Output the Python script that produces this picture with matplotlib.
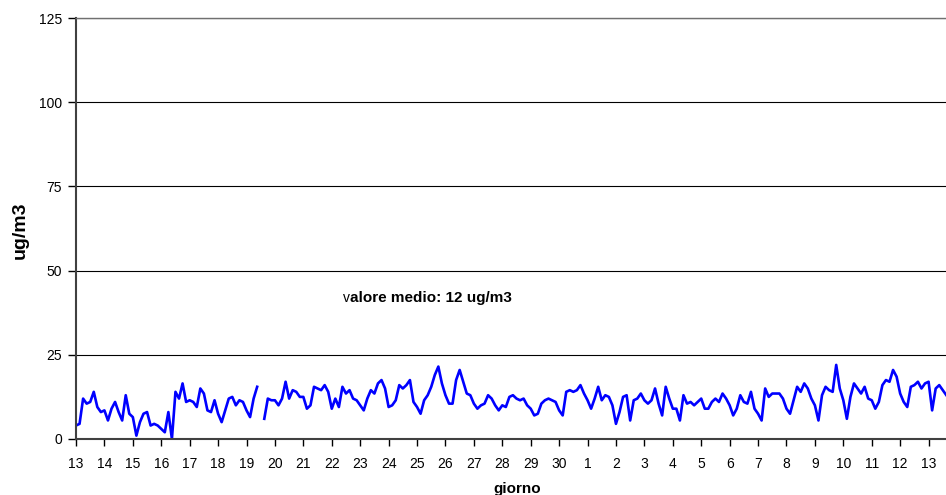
import numpy as np
import matplotlib
matplotlib.use("Agg")
import matplotlib.pyplot as plt

plt.rcParams["font.family"] = ["Liberation Sans", "DejaVu Sans"]

# concentration every 3 hours (ug/m3), from day 13 to day 13 of next month
conc = [
    4, 4.5, 12, 10.5, 11, 14, 9.5, 8,            # 13
    8.5, 5.5, 9, 11, 8, 5.5, 13, 7.5,            # 14
    6.5, 1, 5, 7.5, 8, 4, 4.5, 4,                # 15
    3, 2, 8, 0, 14, 12, 16.5, 11,                # 16
    11.5, 11, 9.5, 15, 13.5, 8.5, 8, 11.5,       # 17
    7.5, 5, 8.5, 12, 12.5, 10, 11.5, 11,         # 18
    8.5, 6.5, 12, 15.5, np.nan, 6, 12, 11.5,     # 19
    11.5, 10, 12, 17, 12, 14.5, 14, 12.5,        # 20
    12.5, 9, 10, 15.5, 15, 14.5, 16, 14,         # 21
    9, 12, 9.5, 15.5, 13.5, 14.5, 12, 11.5,      # 22
    10, 8.5, 12, 14.5, 13.5, 16.5, 17.5, 15,     # 23
    9.5, 10, 11.5, 16, 15, 16, 17.5, 11,         # 24
    9.5, 7.5, 11.5, 13, 15.5, 19, 21.5, 16.5,    # 25
    13, 10.5, 10.5, 17.5, 20.5, 17, 13.5, 13,    # 26
    10.5, 9, 10, 10.5, 13, 12, 10, 8.5,          # 27
    10, 9.5, 12.5, 13, 12, 11.5, 12, 10,         # 28
    9, 7, 7.5, 10.5, 11.5, 12, 11.5, 11,         # 29
    8.5, 7, 14, 14.5, 14, 14.5, 16, 13.5,        # 30
    11.5, 9, 12, 15.5, 11.5, 13, 12.5, 10,       # 1
    4.5, 8, 12.5, 13, 5.5, 11.5, 12, 13.5,       # 2
    11.5, 10.5, 11.5, 15, 10.5, 7, 15.5, 12,     # 3
    9, 9, 5.5, 13, 10.5, 11, 10, 11,             # 4
    12, 9, 9, 11, 12, 11, 13.5, 12,              # 5
    10, 7, 9, 13, 11, 10.5, 14, 9,               # 6
    7.5, 5.5, 15, 12.5, 13.5, 13.5, 13.5, 12,    # 7
    9, 7.5, 11.5, 15.5, 14, 16.5, 15, 12,        # 8
    10, 5.5, 13, 15.5, 14.5, 14, 22, 15,         # 9
    11.5, 6, 12.5, 16.5, 15, 13.5, 15.5, 12,     # 10
    11.5, 9, 11, 16, 17.5, 17, 20.5, 18.5,       # 11
    13.5, 11, 9.5, 15.5, 16, 17, 15, 16.5,       # 12
    17, 8.5, 15, 16, 14.5, 13,                   # 13
]

day_labels = list(range(13, 31)) + list(range(1, 14))
y_ticks = [0, 25, 50, 75, 100, 125]
mean_value = 12

days = np.arange(len(conc)) * 3 / 24.0

fig = plt.figure(figsize=(9.46, 4.95), dpi=100)
ax = fig.add_axes([76 / 946, 56 / 495, 881 / 946, 421 / 495])

ax.plot(days, conc, color="#0000FF", linewidth=1.9)

ax.set_xlim(0, 31)
ax.set_ylim(0, 125)
ax.set_xticks(range(len(day_labels)))
ax.set_xticklabels(day_labels)
ax.set_yticks(y_ticks)

ax.yaxis.grid(True, color="black", linewidth=0.8)
ax.set_axisbelow(True)

for side in ["left", "bottom"]:
    ax.spines[side].set_color("#404040")
    ax.spines[side].set_linewidth(1.5)
ax.spines["right"].set_visible(False)
ax.spines["top"].set_color("#707070")
ax.spines["top"].set_linewidth(1)

ax.tick_params(axis="x", direction="out", length=5, width=1, pad=8, labelsize=10)
ax.tick_params(axis="y", direction="out", length=6, width=1, pad=4, labelsize=10)

# first letter is plain in the original, the rest bold
ax.text(9.39, 41.8, "v", fontsize=10, va="center", ha="left")
ax.text(9.65, 41.8, "alore medio: %d ug/m3" % mean_value,
        fontsize=11, fontweight="bold", va="center", ha="left")

fig.text(20 / 946, 1 - 230 / 495, "ug/m3", rotation=90, fontsize=14,
         fontweight="bold", ha="center", va="center")
fig.text(517 / 946, 1 - 489 / 495, "giorno", fontsize=11,
         fontweight="bold", ha="center", va="center")

fig.savefig("out.png", dpi=100)
